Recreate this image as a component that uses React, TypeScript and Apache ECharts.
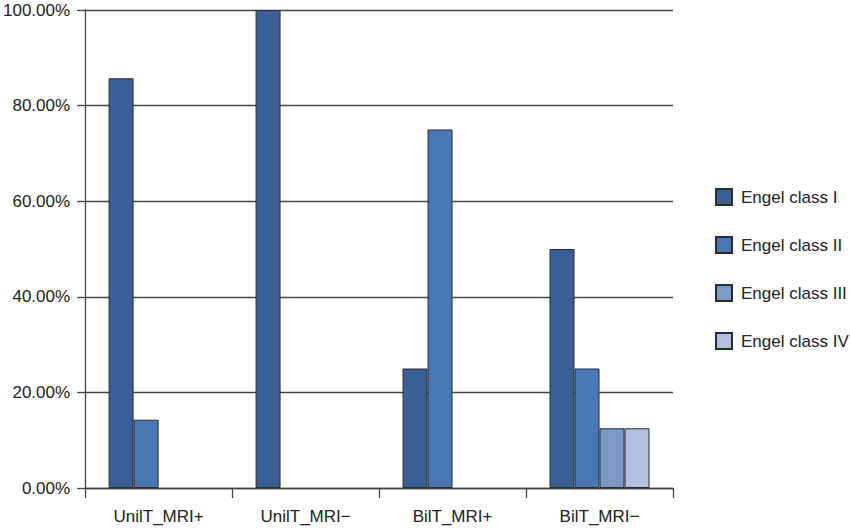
import React, { useEffect, useRef } from "react";
import * as echarts from "echarts";

const categories = ["UnilT_MRI+", "UnilT_MRI\u2212", "BilT_MRI+", "BilT_MRI\u2212"];
const seriesNames = ["Engel class I", "Engel class II", "Engel class III", "Engel class IV"];
const classI = [85.71, 100, 25, 50];
const classII = [14.29, 0, 75, 25];
const classIII = [0, 0, 0, 12.5];
const classIV = [0, 0, 0, 12.5];
const yTicks = [0, 20, 40, 60, 80, 100];

const colors = ["#3a5f95", "#4a78b5", "#7b9bc6", "#b5bfdf"];
const FONT = "'Liberation Sans', Arial, sans-serif";

export default function App() {
  const ref = useRef<HTMLDivElement>(null);
  useEffect(() => {
    if (!ref.current) return;
    const chart = echarts.init(ref.current, undefined, { renderer: "svg" });
    const data = [classI, classII, classIII, classIV];
    chart.setOption({
      animation: false,
      backgroundColor: "#ffffff",
      grid: { left: 84, right: 177, top: 10, bottom: 41, containLabel: false },
      legend: {
        orient: "vertical",
        left: 715,
        top: 188,
        padding: 0,
        itemWidth: 16,
        itemHeight: 16,
        itemGap: 30,
        icon: "rect",
        textStyle: { fontFamily: FONT, fontSize: 17, color: "#222", padding: [0, 0, 0, 4] },
        data: seriesNames,
      },
      xAxis: {
        type: "category",
        data: categories,
        axisLine: { lineStyle: { color: "#444", width: 1.3 } },
        axisTick: { show: true, length: 10, alignWithLabel: false, lineStyle: { color: "#444", width: 1.3 } },
        axisLabel: { fontFamily: FONT, fontSize: 17, color: "#222", margin: 20 },
        splitLine: { show: false },
      },
      yAxis: {
        type: "value",
        min: yTicks[0],
        max: yTicks[yTicks.length - 1],
        interval: 20,
        axisLine: { show: true, lineStyle: { color: "#444", width: 1.3 } },
        axisTick: { show: true, length: 8, lineStyle: { color: "#444", width: 1.3 } },
        axisLabel: {
          fontFamily: FONT,
          fontSize: 17,
          color: "#222",
          margin: 15,
          formatter: (v: number) => v.toFixed(2) + "%",
        },
        splitLine: { show: true, lineStyle: { color: "#444", width: 1.3 } },
      },
      series: seriesNames.map((name, i) => ({
        name,
        type: "bar",
        data: data[i].map((v) => (v === 0 ? null : v)),
        barWidth: 25,
        barGap: "0%",
        itemStyle: { color: colors[i], borderColor: "#2b2b2b", borderWidth: 1 },
      })),
    });
    return () => chart.dispose();
  }, []);
  return <div ref={ref} style={{ width: 850, height: 529, position: "absolute", left: 0, top: 0 }} />;
}
